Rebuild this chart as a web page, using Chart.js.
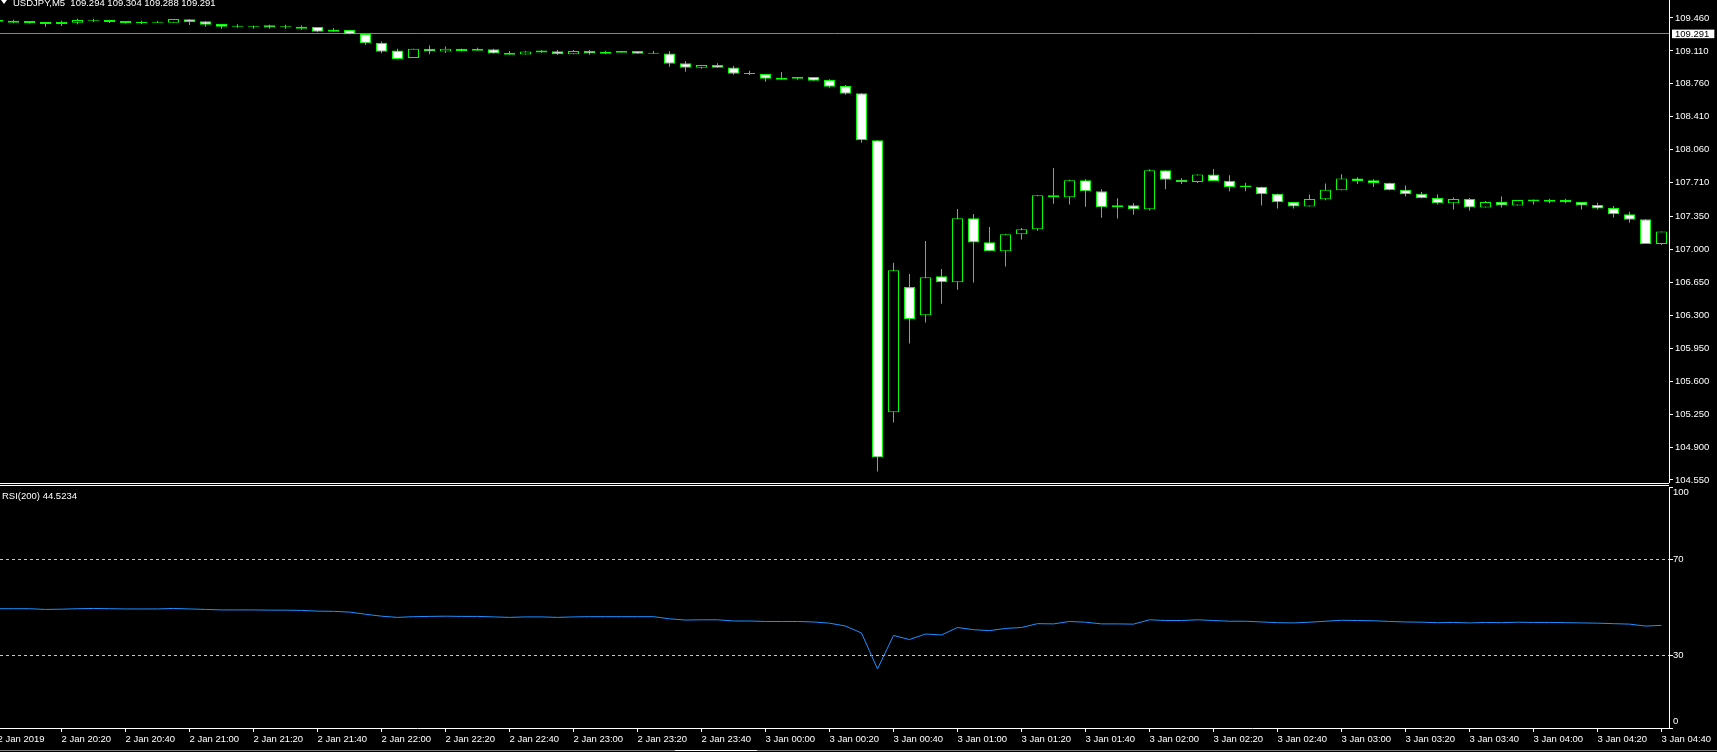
<!DOCTYPE html>
<html><head><meta charset="utf-8">
<script src="https://cdn.jsdelivr.net/npm/chart.js@4/dist/chart.umd.min.js"></script>
<style>
html,body{margin:0;padding:0;background:#000;width:1717px;height:752px;overflow:hidden;}
#wrap{position:relative;width:1717px;height:752px;background:#000;overflow:hidden;}
canvas{position:absolute;left:0;}
#main{top:0;}
#rsi{top:487px;}
.txt{position:absolute;color:#fff;font:9.5px 'Liberation Sans',Arial,sans-serif;white-space:pre;line-height:11px;}
.hl{position:absolute;left:0;width:1669px;height:1px;background:#fff;}
</style></head><body><div id="wrap">
<canvas id="main" width="1717" height="483"></canvas>
<canvas id="rsi" width="1717" height="265"></canvas>
<div class="hl" style="top:483px"></div>
<div class="hl" style="top:485px"></div>
<div style="position:absolute;left:1px;top:0px;width:0;height:0;border-left:3px solid transparent;border-right:3px solid transparent;border-top:4px solid #fff;"></div>
<div class="txt" id="title" style="left:13px;top:-3px;"></div>
<div class="txt" id="rsiTitle" style="left:2px;top:490px;"></div>
<div style="position:absolute;left:0;top:750px;width:1717px;height:1px;background:#808080;"></div>
<div style="position:absolute;left:675px;top:750px;width:82px;height:1px;background:#ffffff;"></div>
</div>
<script>
// ---------------- data ----------------
const times = [
'20:00','20:05','20:10','20:15','20:20','20:25','20:30','20:35','20:40','20:45','20:50','20:55',
'21:00','21:05','21:10','21:15','21:20','21:25','21:30','21:35','21:40','21:45','21:50','21:55',
'22:00','22:05','22:10','22:15','22:20','22:25','22:30','22:35','22:40','22:45','22:50','22:55',
'23:00','23:05','23:10','23:15','23:20','23:25','23:30','23:35','23:40','23:45','23:50','23:55',
'00:00','00:05','00:10','00:15','00:20','00:25','00:30','00:35','00:40','00:45','00:50','00:55',
'01:00','01:05','01:10','01:15','01:20','01:25','01:30','01:35','01:40','01:45','01:50','01:55',
'02:00','02:05','02:10','02:15','02:20','02:25','02:30','02:35','02:40','02:45','02:50','02:55',
'03:00','03:05','03:10','03:15','03:20','03:25','03:30','03:35','03:40','03:45','03:50','03:55',
'04:00','04:05','04:10','04:15','04:20','04:25','04:30','04:35','04:40'];

const opens = [
109.439,109.432,109.428,109.418,109.396,109.410,109.432,109.439,109.428,109.418,
109.410,109.410,109.446,109.425,109.396,109.378,109.375,109.382,109.371,109.368,
109.364,109.315,109.332,109.290,109.198,109.114,109.035,109.133,109.103,109.133,
109.130,109.129,109.091,109.072,109.114,109.107,109.074,109.109,109.102,109.092,
109.109,109.091,109.084,108.980,108.932,108.960,108.935,108.875,108.865,108.826,
108.833,108.833,108.800,108.737,108.659,108.160,105.270,106.600,106.300,106.715,
106.651,107.331,107.076,106.980,107.161,107.214,107.576,107.554,107.735,107.618,
107.470,107.470,107.427,107.841,107.742,107.717,107.796,107.731,107.680,107.666,
107.591,107.504,107.457,107.533,107.630,107.753,107.735,107.710,107.634,107.591,
107.548,107.490,107.537,107.447,107.504,107.468,107.530,107.525,107.526,107.504,
107.472,107.440,107.375,107.321,107.058];

const highs = [
109.442,109.442,109.428,109.418,109.432,109.453,109.453,109.439,109.428,109.432,
109.428,109.449,109.446,109.425,109.396,109.393,109.379,109.389,109.389,109.379,
109.364,109.354,109.332,109.290,109.209,109.133,109.133,109.167,109.156,109.133,
109.145,109.133,109.110,109.110,109.120,109.120,109.120,109.120,109.112,109.109,
109.109,109.109,109.109,109.000,108.960,108.980,108.950,108.900,108.865,108.886,
108.833,108.833,108.810,108.748,108.659,108.160,106.860,106.740,107.090,106.793,
107.430,107.377,107.239,107.161,107.229,107.576,107.866,107.740,107.750,107.640,
107.544,107.490,107.852,107.841,107.756,107.796,107.854,107.789,107.710,107.666,
107.591,107.504,107.584,107.702,107.800,107.767,107.746,107.710,107.681,107.612,
107.584,107.551,107.548,107.515,107.562,107.526,107.530,107.540,107.540,107.504,
107.497,107.461,107.400,107.321,107.191];

const lows = [
109.418,109.403,109.400,109.368,109.375,109.393,109.418,109.407,109.400,109.396,
109.407,109.410,109.386,109.368,109.347,109.357,109.347,109.347,109.347,109.336,
109.308,109.315,109.286,109.177,109.085,109.020,109.035,109.076,109.088,109.103,
109.112,109.084,109.069,109.072,109.090,109.070,109.074,109.070,109.081,109.092,
109.080,109.080,108.943,108.890,108.921,108.932,108.858,108.854,108.783,108.805,
108.804,108.794,108.720,108.645,108.135,104.640,105.160,106.000,106.223,106.424,
106.573,106.648,106.980,106.818,107.105,107.200,107.487,107.477,107.455,107.338,
107.328,107.370,107.414,107.640,107.695,107.706,107.728,107.620,107.620,107.468,
107.436,107.436,107.457,107.522,107.630,107.695,107.663,107.630,107.566,107.544,
107.479,107.425,107.414,107.447,107.447,107.468,107.479,107.490,107.490,107.425,
107.425,107.339,107.285,107.058,107.047];

const closes = [
109.421,109.410,109.407,109.396,109.418,109.439,109.440,109.418,109.407,109.408,
109.418,109.449,109.418,109.389,109.368,109.368,109.368,109.360,109.363,109.345,
109.315,109.336,109.288,109.191,109.102,109.023,109.133,109.103,109.133,109.110,
109.112,109.084,109.069,109.103,109.093,109.074,109.109,109.084,109.081,109.109,
109.080,109.080,108.974,108.932,108.960,108.932,108.868,108.865,108.815,108.805,
108.815,108.794,108.730,108.656,108.160,104.790,106.780,106.260,106.704,106.651,
107.331,107.073,106.980,107.161,107.214,107.576,107.554,107.735,107.618,107.448,
107.448,107.427,107.841,107.742,107.717,107.796,107.728,107.663,107.663,107.587,
107.501,107.457,107.537,107.634,107.753,107.728,107.706,107.630,107.587,107.544,
107.490,107.537,107.447,107.504,107.468,107.526,107.512,107.508,107.501,107.468,
107.436,107.375,107.317,107.058,107.191];

const rsi = [
49.5,49.5,49.5,49.2,49.3,49.5,49.6,49.5,49.4,49.4,
49.4,49.6,49.4,49.2,49.0,49.0,49.0,48.9,48.9,48.8,
48.5,48.4,48.1,47.2,46.4,45.9,46.2,46.3,46.4,46.3,
46.3,46.1,45.9,46.1,46.1,45.9,46.1,46.2,46.2,46.2,
46.2,46.2,45.3,44.8,44.9,44.9,44.4,44.4,44.2,44.2,
44.2,44.0,43.5,42.3,39.4,24.5,38.4,36.7,39.0,38.6,
41.7,40.8,40.4,41.3,41.7,43.3,43.2,44.2,43.9,43.2,
43.2,43.1,44.9,44.6,44.6,44.9,44.6,44.3,44.3,44.0,
43.7,43.6,43.9,44.3,44.7,44.6,44.5,44.2,44.0,43.9,
43.7,43.8,43.6,43.8,43.7,43.9,43.8,43.8,43.7,43.6,
43.5,43.3,43.1,42.3,42.6];

const priceTicks = [109.460,109.110,108.760,108.410,108.060,107.710,107.350,107.000,106.650,106.300,105.950,105.600,105.250,104.900,104.550];
const currentPrice = 109.291;
const xTickTimes = ['20:00','20:20','20:40','21:00','21:20','21:40','22:00','22:20','22:40','23:00','23:20','23:40',
  '00:00','00:20','00:40','01:00','01:20','01:40','02:00','02:20','02:40','03:00','03:20','03:40','04:00','04:20','04:40'];
const xTickLabels = ['2 Jan 2019','2 Jan 20:20','2 Jan 20:40','2 Jan 21:00','2 Jan 21:20','2 Jan 21:40','2 Jan 22:00','2 Jan 22:20','2 Jan 22:40','2 Jan 23:00','2 Jan 23:20','2 Jan 23:40',
  '3 Jan 00:00','3 Jan 00:20','3 Jan 00:40','3 Jan 01:00','3 Jan 01:20','3 Jan 01:40','3 Jan 02:00','3 Jan 02:20','3 Jan 02:40','3 Jan 03:00','3 Jan 03:20','3 Jan 03:40','3 Jan 04:00','3 Jan 04:20','3 Jan 04:40'];
const rsiTicks = [0, 30, 70, 100];
const rsiLevels = [30, 70];
const titleText = 'USDJPY,M5  109.294 109.304 109.288 109.291';
const rsiTitleText = 'RSI(200) 44.5234';

// ---------------- rendering ----------------
document.getElementById('title').textContent = titleText;
document.getElementById('rsiTitle').textContent = rsiTitleText;

const FONT = "'Liberation Sans',Arial,sans-serif";
const FSIZE = 9.5;
Chart.defaults.font.family = FONT;
Chart.defaults.font.size = FSIZE;
Chart.defaults.color = '#ffffff';

const LIME = '#00ff00';
const X_MIN = 0.15625, X_MAX = 104.46875;
const isCur = (c) => !!(c.tick && Math.abs(c.tick.value - currentPrice) < 1e-9);

const baseOpts = {
  responsive: false, animation: false, events: [], devicePixelRatio: 1,
  layout: { padding: 0, autoPadding: false },
  plugins: { legend: { display: false }, tooltip: { enabled: false }, title: { display: false } }
};

new Chart(document.getElementById('main'), {
  type: 'bar',
  data: { datasets: [
    { label: 'body', data: times.map((t, j) => ({ x: j, y: [opens[j], closes[j]] })),
      backgroundColor: times.map((t, j) => closes[j] > opens[j] ? '#000000' : '#ffffff'),
      borderColor: LIME, borderWidth: 1, borderSkipped: false, barThickness: 11,
      grouped: false, inflateAmount: 0, order: 0 },
    { label: 'wick', data: times.map((t, j) => ({ x: j, y: [lows[j], highs[j]] })),
      backgroundColor: LIME, borderWidth: 0, barThickness: 1,
      grouped: false, inflateAmount: 0, order: 1 }
  ]},
  options: Object.assign({}, baseOpts, {
    scales: {
      x: { type: 'linear', min: X_MIN, max: X_MAX, offset: false, display: false, grid: { display: false } },
      y: { type: 'linear', position: 'right', min: 104.518, max: 109.6513,
        afterBuildTicks: (s) => { s.ticks = priceTicks.concat([currentPrice]).sort((a, b) => b - a).map(v => ({ value: v })); },
        afterFit: (s) => { s.width = 48; s.paddingTop = 0; s.paddingBottom = 0; },
        border: { display: true, color: '#ffffff', width: 1 },
        grid: { drawOnChartArea: true, drawTicks: true, tickLength: 4, lineWidth: 1,
          color: (c) => isCur(c) ? '#778899' : 'rgba(0,0,0,0)',
          tickColor: (c) => isCur(c) ? 'rgba(0,0,0,0)' : '#ffffff' },
        ticks: { autoSkip: false, padding: 2,
          color: (c) => isCur(c) ? '#000000' : '#ffffff',
          showLabelBackdrop: (c) => isCur(c),
          backdropColor: '#ffffff',
          backdropPadding: { top: 0, bottom: 0, left: 3, right: 5 },
          font: { size: FSIZE, lineHeight: 0.9 },
          callback: (v) => Number(v).toFixed(3) }
      }
    }
  })
});

const rsiAxisLabels = {
  id: 'rsiAxisLabels',
  afterDraw(chart) {
    const s = chart.scales.y, ctx = chart.ctx;
    ctx.save();
    ctx.font = FSIZE + 'px ' + FONT;
    ctx.fillStyle = '#ffffff';
    ctx.textAlign = 'left';
    ctx.textBaseline = 'middle';
    s.ticks.forEach(t => {
      let y = s.getPixelForValue(t.value);
      y = Math.min(Math.max(y, s.top + 5.5), s.bottom - 7);
      ctx.fillText(String(t.value), s.left + 4, y);
    });
    ctx.restore();
  }
};

new Chart(document.getElementById('rsi'), {
  type: 'line',
  data: { datasets: [
    { label: 'RSI', data: times.map((t, j) => ({ x: j, y: rsi[j] })),
      borderColor: '#1e90ff', borderWidth: 1, pointRadius: 0, tension: 0, fill: false }
  ]},
  options: Object.assign({}, baseOpts, {
    scales: {
      x: { type: 'linear', min: X_MIN, max: X_MAX, offset: false, position: 'bottom',
        afterBuildTicks: (s) => { s.ticks = xTickTimes.map(t => ({ value: times.indexOf(t) })); },
        afterFit: (s) => { s.height = 24; s.paddingLeft = 0; s.paddingRight = 0; },
        border: { display: true, color: '#ffffff', width: 1 },
        grid: { drawOnChartArea: false, drawTicks: true, tickLength: 4, tickColor: '#ffffff', color: 'rgba(0,0,0,0)' },
        ticks: { autoSkip: false, maxRotation: 0, minRotation: 0, align: 'start', padding: 2,
          callback: (v, k) => xTickLabels[k] }
      },
      y: { type: 'linear', position: 'right', min: 0, max: 100,
        afterBuildTicks: (s) => { s.ticks = rsiTicks.map(v => ({ value: v })); },
        afterFit: (s) => { s.width = 48; s.paddingTop = 0; s.paddingBottom = 0; },
        border: { display: true, color: '#ffffff', width: 1, dash: [3, 3] },
        grid: { drawOnChartArea: true, drawTicks: true, tickLength: 4, tickColor: '#ffffff',
          color: (c) => (c.tick && rsiLevels.includes(c.tick.value)) ? '#c8c8c8' : 'rgba(0,0,0,0)' },
        ticks: { display: false }
      }
    }
  }),
  plugins: [rsiAxisLabels]
});
</script>
</body></html>
